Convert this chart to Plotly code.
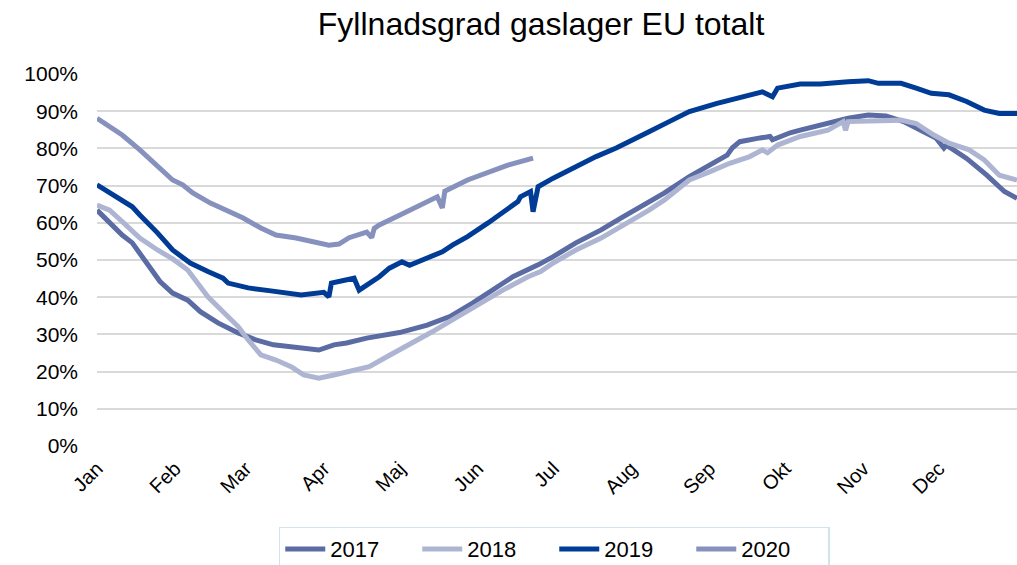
import plotly.graph_objects as go

# Day of year (0 = 1 Jan) and filling level (%)
days_2017 = [0, 5, 10, 14, 18, 25, 30, 36, 41, 48, 56, 63, 70, 77, 85, 88, 94, 99, 107, 113, 120, 131, 140, 149, 157, 165, 175, 181, 190, 200, 208, 219, 225, 235, 243, 250, 252, 255, 262, 267, 268, 275, 279, 287, 298, 306, 313, 320, 327, 333, 336, 337, 345, 353, 360, 365]
vals_2017 = [63.4, 59.9, 56.7, 54.6, 50.9, 44.2, 41.1, 39.2, 36.1, 33.1, 30.4, 28.5, 27.2, 26.6, 26.1, 25.8, 27.2, 27.7, 29.0, 29.6, 30.5, 32.5, 34.8, 38.4, 41.9, 45.5, 48.7, 50.9, 54.6, 58.1, 61.3, 65.7, 68.0, 72.4, 75.5, 78.2, 80.1, 81.8, 82.7, 83.2, 82.3, 84.2, 84.9, 86.3, 88.1, 89.0, 88.7, 87.2, 84.9, 82.7, 80.1, 80.9, 77.3, 72.8, 68.4, 66.6]

days_2018 = [0, 5, 10, 17, 24, 30, 36, 38, 44, 50, 56, 60, 65, 71, 77, 82, 88, 94, 100, 108, 115, 124, 133, 141, 152, 161, 171, 176, 181, 190, 200, 208, 219, 225, 235, 243, 251, 259, 264, 266, 270, 279, 290, 296, 297, 298, 306, 319, 325, 332, 338, 346, 352, 358, 365]
vals_2018 = [64.8, 63.4, 60.3, 55.9, 52.7, 50.3, 47.3, 45.5, 40.1, 36.1, 32.1, 28.5, 24.5, 23.1, 21.3, 19.1, 18.2, 19.1, 20.0, 21.3, 24.0, 27.2, 30.7, 33.9, 38.4, 41.9, 45.5, 46.9, 49.2, 52.7, 55.9, 59.0, 63.4, 66.1, 71.5, 73.7, 76.0, 77.8, 79.6, 78.8, 80.9, 83.2, 84.9, 87.2, 84.9, 87.2, 87.4, 87.6, 86.7, 83.6, 81.4, 79.6, 76.9, 72.8, 71.5]

days_2019 = [0, 5, 10, 14, 17, 24, 30, 37, 44, 50, 52, 60, 69, 77, 81, 90, 92, 93, 96, 102, 104, 107, 112, 116, 121, 124, 129, 137, 141, 147, 155, 163, 167, 168, 172, 173, 175, 181, 190, 198, 206, 213, 219, 227, 235, 246, 254, 264, 268, 270, 279, 287, 298, 306, 310, 319, 325, 331, 338, 345, 352, 358, 365]
vals_2019 = [70.2, 68.0, 65.7, 64.3, 62.1, 57.3, 52.7, 49.2, 46.9, 45.1, 43.8, 42.5, 41.7, 41.1, 40.6, 41.3, 40.1, 43.8, 44.2, 45.1, 41.9, 43.3, 45.5, 47.8, 49.5, 48.6, 50.0, 52.2, 54.0, 56.3, 59.9, 64.0, 65.7, 67.0, 68.4, 63.0, 69.7, 72.0, 75.1, 77.8, 80.1, 82.3, 84.5, 87.2, 89.9, 92.1, 93.5, 95.2, 93.9, 96.2, 97.3, 97.3, 97.9, 98.2, 97.5, 97.5, 96.2, 94.8, 94.4, 92.6, 90.3, 89.4, 89.4]

days_2020 = [0, 5, 10, 17, 24, 30, 34, 38, 45, 53, 58, 65, 71, 79, 87, 92, 96, 100, 107, 109, 110, 112, 120, 128, 135, 137, 138, 147, 155, 163, 173]
vals_2020 = [88.1, 85.8, 83.6, 79.6, 75.1, 71.5, 70.2, 68.0, 65.3, 63.0, 61.3, 58.6, 56.7, 55.9, 54.6, 54.0, 54.3, 56.0, 57.5, 56.0, 58.5, 59.4, 62.0, 64.8, 67.0, 64.0, 68.5, 71.5, 73.4, 75.5, 77.4]

month_starts = [0, 31, 59, 90, 120, 151, 181, 212, 243, 273, 304, 334]
month_labels = ["Jan", "Feb", "Mar", "Apr", "Maj", "Jun", "Jul", "Aug", "Sep", "Okt", "Nov", "Dec"]

series = [
    ("2017", days_2017, vals_2017, "#5B6BA3"),
    ("2018", days_2018, vals_2018, "#ADB5D3"),
    ("2019", days_2019, vals_2019, "#003C96"),
    ("2020", days_2020, vals_2020, "#8791BD"),
]

fig = go.Figure()
for name, d, v, c in series:
    fig.add_trace(go.Scatter(
        x=d, y=[x / 100 for x in v], name=name, mode="lines",
        line=dict(color=c, width=5),
    ))

font_family = "Liberation Sans, Arial, sans-serif"
fig.update_layout(
    width=1017, height=565,
    margin=dict(l=97, r=0, t=74, b=119, autoexpand=False),
    paper_bgcolor="white", plot_bgcolor="white",
    font=dict(family=font_family, color="#000000", size=21),
    title=dict(text="Fyllnadsgrad gaslager EU totalt", x=0.532, xanchor="center",
               y=0.958, yanchor="middle", yref="container",
               font=dict(size=32, color="#000000")),
    showlegend=True,
    legend=dict(
        orientation="h", xref="container", yref="container",
        x=0.545, xanchor="center", y=0.068, yanchor="top",
        bordercolor="#D3E3EC", borderwidth=1.5,
        font=dict(size=22), itemwidth=40, entrywidth=82, traceorder="normal",
    ),
)
fig.update_xaxes(
    range=[0, 365], tickmode="array", tickvals=month_starts, ticktext=month_labels,
    tickangle=-45, showgrid=False, zeroline=False, showline=False, ticks="",
    ticklabelstandoff=6, tickfont=dict(size=20), automargin=False,
)
fig.update_yaxes(
    range=[0, 1], tickformat=".0%", dtick=0.1, tick0=0,
    showgrid=True, gridcolor="#D9D9D9", gridwidth=1.5,
    zeroline=False, showline=False, ticks="", ticklabelstandoff=18,
    tickfont=dict(size=21), automargin=False,
)

fig.write_html(
    "out.html",
    config={"displayModeBar": False},
    post_script="document.body.style.margin='0';document.body.style.padding='0';document.body.style.overflow='hidden';",
)
